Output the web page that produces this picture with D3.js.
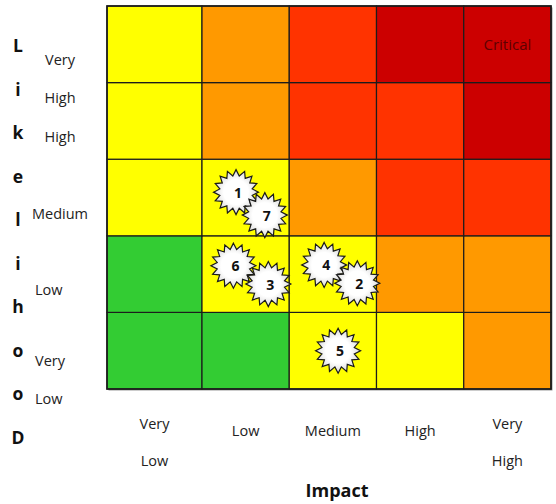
<!DOCTYPE html>
<html>
<head>
<meta charset="utf-8">
<script src="https://cdn.jsdelivr.net/npm/d3@7"></script>
<style>
  html, body { margin: 0; padding: 0; background: #fff; }
  svg { display: block; font-family: "Open Sans", "Noto Sans", sans-serif; }
</style>
</head>
<body>
<svg id="chart" width="556" height="504"></svg>
<script>
// Axis categories (low → high)
const impactLevels = ["Very Low", "Low", "Medium", "High", "Very High"];
const likelihoodLevels = ["Very Low", "Low", "Medium", "High", "Very High"];

// Tick labels, split into lines as they are printed
const impactTickLines = [["Very", "Low"], ["Low"], ["Medium"], ["High"], ["Very", "High"]];
const likelihoodTickLines = [["Very", "Low"], ["Low"], ["Medium"], ["High"], ["Very", "High"]];
const likelihoodTitle = ["L", "i", "k", "e", "l", "i", "h", "o", "o", "D"];
const impactTitle = "Impact";

// Rating of each cell: rows = likelihood (Very Low → Very High), cols = impact (Very Low → Very High)
const ratingMatrix = [
  ["low",    "low",    "medium", "medium", "high"],
  ["low",    "medium", "medium", "high",   "high"],
  ["medium", "medium", "high",   "severe", "severe"],
  ["medium", "high",   "severe", "severe", "critical"],
  ["medium", "high",   "severe", "critical", "critical"]
];
const ratingNames = ["low", "medium", "high", "severe", "critical"];
const ratingColors = ["#33CC33", "#FFFF00", "#FF9900", "#FF3300", "#CC0000"];
const cellNotes = [{ impact: 4, likelihood: 4, text: "Critical" }];

// Risks: id, impact score and likelihood score (0–5 continuous), listed in stacking order
const riskIds        = [1,    7,    6,    3,    4,    2,    5];
const riskImpact     = [1.39, 1.72, 1.36, 1.76, 2.40, 2.78, 2.56];
const riskLikelihood = [2.57, 2.27, 1.61, 1.37, 1.62, 1.38, 0.50];

const svg = d3.select("#chart");
const gridLeft = 107, gridRight = 551, gridTop = 6, gridBottom = 389;

// First impact column is a little wider than the rest
const x = d3.scaleLinear().domain([0, 1, 5]).range([gridLeft, gridLeft + 95, gridRight]);
const y = d3.scaleLinear().domain([0, 5]).range([gridBottom, gridTop]);
const color = d3.scaleOrdinal().domain(ratingNames).range(ratingColors);

// Drop shadow of the grid
svg.append("rect")
  .attr("x", gridLeft + 1.5).attr("y", gridTop + 1.5)
  .attr("width", gridRight - gridLeft).attr("height", gridBottom - gridTop)
  .attr("fill", "#9a9a9a");

// Cells
const cells = [];
ratingMatrix.forEach((row, li) => row.forEach((r, ii) => cells.push({ li, ii, r })));
svg.append("g").selectAll("rect").data(cells).join("rect")
  .attr("x", d => x(d.ii))
  .attr("y", d => y(d.li + 1))
  .attr("width", d => x(d.ii + 1) - x(d.ii))
  .attr("height", d => y(d.li) - y(d.li + 1))
  .attr("fill", d => color(d.r))
  .attr("stroke", "#1c1c1c")
  .attr("stroke-width", 1.2);

svg.append("rect")
  .attr("x", gridLeft).attr("y", gridTop)
  .attr("width", gridRight - gridLeft).attr("height", gridBottom - gridTop)
  .attr("fill", "none").attr("stroke", "#1c1c1c").attr("stroke-width", 1.6);

// Cell notes
svg.append("g").selectAll("text").data(cellNotes).join("text")
  .attr("x", d => (x(d.impact) + x(d.impact + 1)) / 2)
  .attr("y", d => (y(d.likelihood) + y(d.likelihood + 1)) / 2)
  .attr("text-anchor", "middle")
  .attr("dominant-baseline", "central")
  .attr("font-size", 15)
  .attr("fill", "#5e0000")
  .text(d => d.text);

// Starburst markers
const defs = svg.append("defs");
const grad = defs.append("radialGradient").attr("id", "burstFill");
grad.append("stop").attr("offset", "55%").attr("stop-color", "#ffffff");
grad.append("stop").attr("offset", "100%").attr("stop-color", "#d9d9d9");

const spikes = 16, rOuter = 22.5, rInner = 16.5;
const burstPts = d3.range(spikes * 2).map(i => [i * Math.PI / spikes, i % 2 ? rInner : rOuter]);
const burst = d3.lineRadial().angle(d => d[0]).radius(d => d[1]).curve(d3.curveLinearClosed);

const risks = riskIds.map((id, i) => ({ id, impact: riskImpact[i], likelihood: riskLikelihood[i] }));
const rg = svg.append("g").selectAll("g").data(risks).join("g")
  .attr("transform", d => `translate(${x(d.impact)},${y(d.likelihood)})`);
rg.append("path")
  .attr("d", burst(burstPts))
  .attr("fill", "url(#burstFill)")
  .attr("stroke", "#1a1a1a")
  .attr("stroke-width", 1.2);
rg.append("text")
  .attr("text-anchor", "middle")
  .attr("dominant-baseline", "central")
  .attr("x", 2)
  .attr("font-size", 14)
  .attr("font-weight", "bold")
  .attr("fill", "#111")
  .text(d => d.id);

// Likelihood title, one letter per line
svg.append("g").selectAll("text").data(likelihoodTitle).join("text")
  .attr("x", 18)
  .attr("y", (d, i) => 45 + i * 43.5)
  .attr("text-anchor", "middle")
  .attr("dominant-baseline", "central")
  .attr("font-size", 17.5)
  .attr("font-weight", "bold")
  .attr("fill", "#111")
  .text(d => d);

// Likelihood tick labels
const ly = svg.append("g").selectAll("text").data(likelihoodTickLines).join("text")
  .attr("text-anchor", (d, i) => i >= 2 ? "middle" : "start")
  .attr("font-size", 14.5)
  .attr("fill", "#222");
ly.each(function (lines, i) {
  const cy = (y(i) + y(i + 1)) / 2 + (i === 0 ? 10 : 15.5);
  d3.select(this).selectAll("tspan").data(lines).join("tspan")
    .attr("x", i >= 2 ? 60 : 35)
    .attr("y", (d, k) => cy + k * 38)
    .attr("dominant-baseline", "central")
    .text(d => d);
});

// Impact tick labels
const ix = svg.append("g").selectAll("text").data(impactTickLines).join("text")
  .attr("text-anchor", "middle")
  .attr("font-size", 14.5)
  .attr("fill", "#222");
ix.each(function (lines, i) {
  const cx = (x(i) + x(i + 1)) / 2;
  d3.select(this).selectAll("tspan").data(lines).join("tspan")
    .attr("x", cx)
    .attr("y", (d, k) => (lines.length > 1 ? 423 : 430) + k * 37)
    .attr("dominant-baseline", "central")
    .text(d => d);
});

// Impact title
svg.append("text")
  .attr("x", 337).attr("y", 490)
  .attr("text-anchor", "middle")
  .attr("dominant-baseline", "central")
  .attr("font-size", 18)
  .attr("font-weight", "bold")
  .attr("fill", "#111")
  .text(impactTitle);
</script>
</body>
</html>
